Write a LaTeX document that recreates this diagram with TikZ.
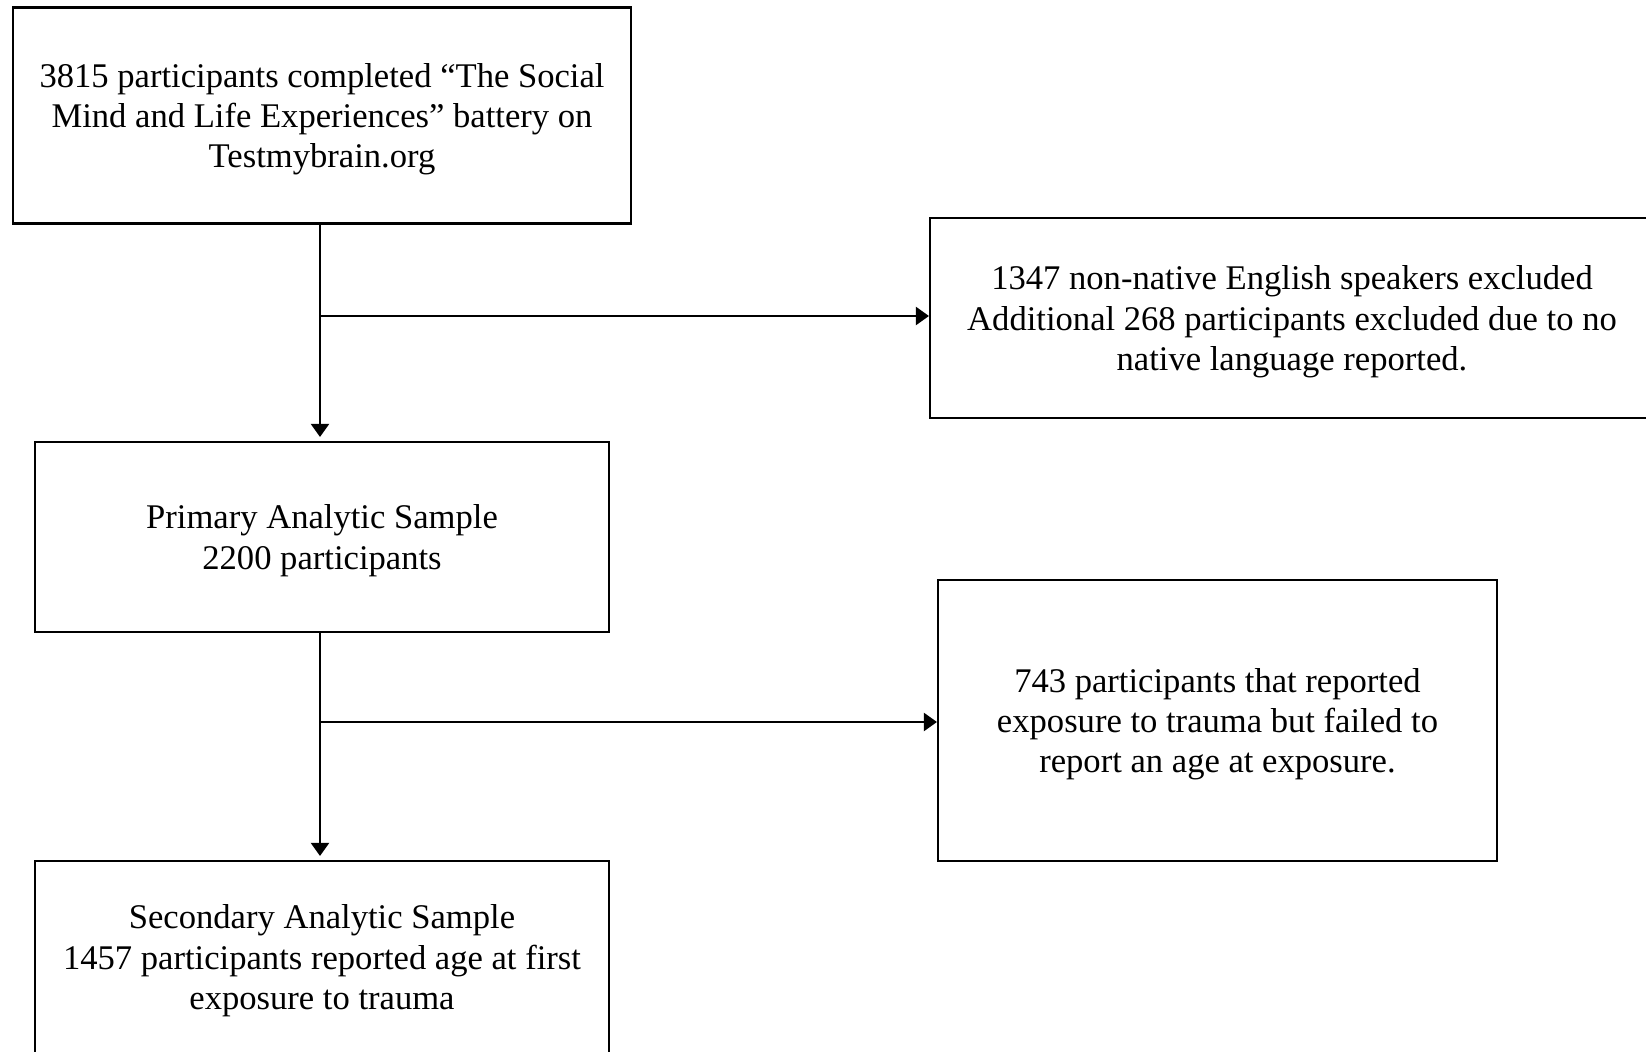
\documentclass[tikz,border=0pt]{standalone}
\usepackage{fontspec}
\setmainfont{Liberation Serif}
\usetikzlibrary{arrows.meta}
\begin{document}
\begin{tikzpicture}[x=0.5pt,y=-0.5pt,
	box/.style={draw,line width=1.05pt,align=center,inner sep=0pt,text depth=0pt,font=\fontsize{17.3}{20.2}\selectfont},
	flow/.style={line width=1.05pt,-{Triangle[length=6.5pt,width=9pt]}}]
	\useasboundingbox (0,0) rectangle (1646,1051);
	\clip (0,0) rectangle (1646,1051);
	% main column
	\node[box,minimum width=309pt,minimum height=108pt] (start) at (322,115.5)
		{3815 participants completed ``The Social\\Mind and Life Experiences'' battery on\\Testmybrain.org};
	\node[box,minimum width=287pt,minimum height=95pt] (primary) at (322,537)
		{Primary Analytic Sample\\2200 participants};
	\node[box,minimum width=287pt,minimum height=96pt] (secondary) at (322,957)
		{Secondary Analytic Sample\\1457 participants reported age at first\\exposure to trauma};
	% exclusions
	\node[box,minimum width=362pt,minimum height=100pt] (excl1) at (1292,318)
		{1347 non-native English speakers excluded\\Additional 268 participants excluded due to no\\native language reported.};
	\node[box,minimum width=279.5pt,minimum height=140.5pt] (excl2) at (1217.5,720.5)
		{743 participants that reported\\exposure to trauma but failed to\\report an age at exposure.};
	\coordinate (j1) at (320,316);
	\coordinate (j2) at (320,722);
	\draw[flow,shorten >=2pt] (start.south -| j1) -- (primary.north -| j1);
	\draw[flow,shorten >=2pt] (primary.south -| j2) -- (secondary.north -| j2);
	\draw[flow] (j1) -- (excl1.west |- j1);
	\draw[flow] (j2) -- (excl2.west |- j2);
\end{tikzpicture}
\end{document}
